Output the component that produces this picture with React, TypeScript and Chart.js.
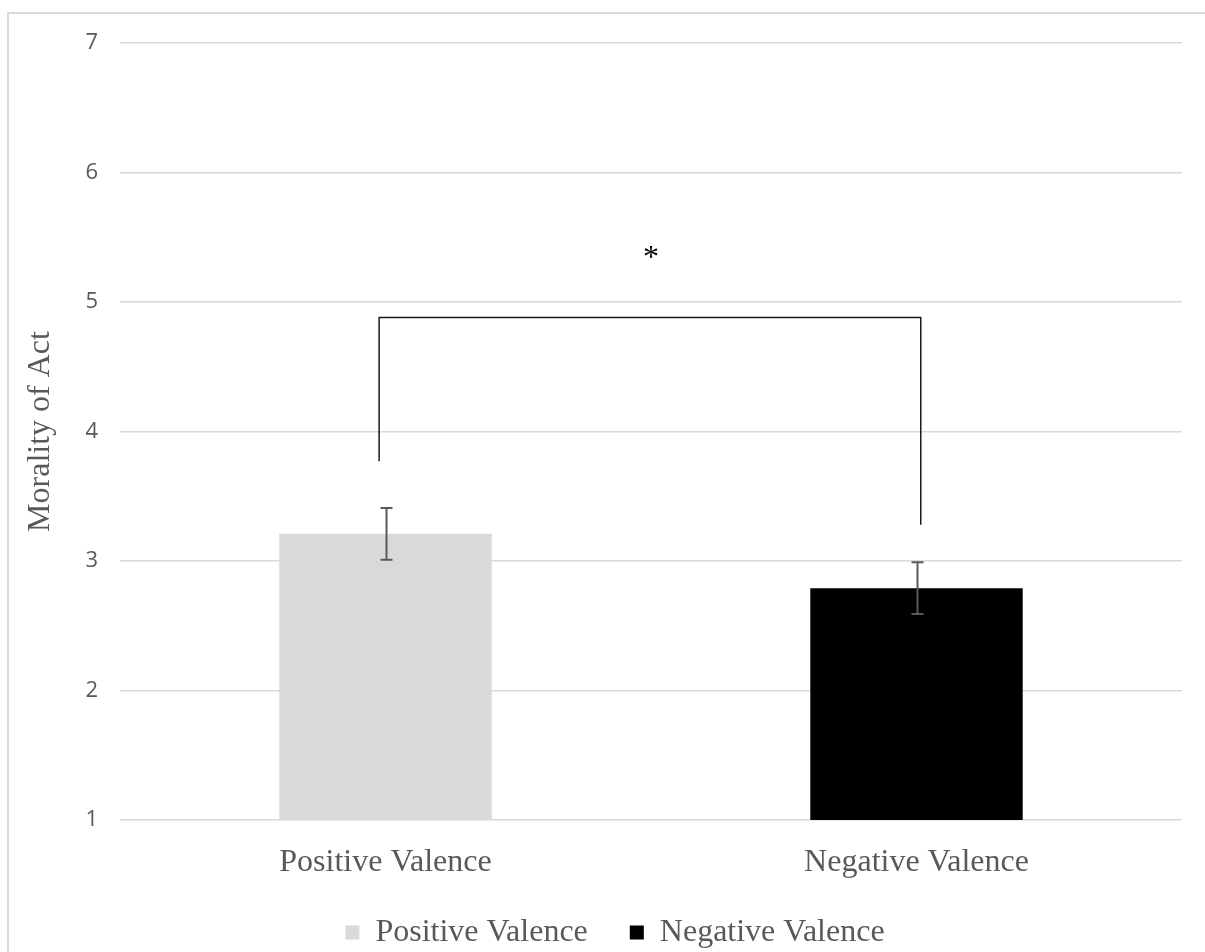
import React, { useEffect, useRef } from "react";
import { Chart, registerables } from "chart.js";

Chart.register(...registerables);

// Group means and standard errors
const categories = ["Positive Valence", "Negative Valence"];
const seriesNames = ["Positive Valence", "Negative Valence"];
const means = [3.21, 2.79];
const stdErrors = [0.2, 0.2];
const seriesColors = ["#d9d9d9", "#000000"];

// Value axis
const yMin = 1;
const yMax = 7;
const yStep = 1;
const yTitle = "Morality of Act";

// Significance bracket (x in category-index units, y in data units)
const bracketX = [-0.012, 1.008];
const bracketFeet = [3.77, 3.28];
const bracketTop = 4.88;
const starX = 0.5;
const starLevel = 5.38;
const starText = "*";

const SERIF = "'Liberation Serif', 'Times New Roman', serif";
const SANS = "'Open Sans', 'Liberation Sans', sans-serif";
const TEXT_GREY = "#595959";
const GRID_GREY = "#d9d9d9";
// extra room after each legend entry except the last
const LEGEND_GAP = "\u2002\u2002";

const framePlugin = {
  id: "frame",
  beforeDraw(chart: any) {
    const { ctx, width, height } = chart;
    ctx.save();
    ctx.fillStyle = "#ffffff";
    ctx.fillRect(0, 0, width, height);
    ctx.strokeStyle = GRID_GREY;
    ctx.lineWidth = 2;
    ctx.beginPath();
    ctx.moveTo(8, height);
    ctx.lineTo(8, 13);
    ctx.lineTo(width, 13);
    ctx.stroke();
    ctx.restore();
  },
};

const annotationsPlugin = {
  id: "annotations",
  afterDatasetsDraw(chart: any) {
    const { ctx } = chart;
    const xs = chart.scales.x;
    const ys = chart.scales.y;
    ctx.save();

    // error bars
    ctx.strokeStyle = "#5a5a5a";
    ctx.lineWidth = 2;
    means.forEach((m, i) => {
      const x = Math.round(xs.getPixelForValue(i)) + 0.5;
      const yt = ys.getPixelForValue(m + stdErrors[i]);
      const yb = ys.getPixelForValue(m - stdErrors[i]);
      ctx.beginPath();
      ctx.moveTo(x, yt);
      ctx.lineTo(x, yb);
      ctx.moveTo(x - 6, yt);
      ctx.lineTo(x + 6, yt);
      ctx.moveTo(x - 6, yb);
      ctx.lineTo(x + 6, yb);
      ctx.stroke();
    });

    // significance bracket
    const xl = xs.getPixelForValue(bracketX[0]);
    const xr = xs.getPixelForValue(bracketX[1]);
    const yTop = ys.getPixelForValue(bracketTop);
    ctx.strokeStyle = "#1a1a1a";
    ctx.lineWidth = 1.5;
    ctx.beginPath();
    ctx.moveTo(xl, ys.getPixelForValue(bracketFeet[0]));
    ctx.lineTo(xl, yTop);
    ctx.lineTo(xr, yTop);
    ctx.lineTo(xr, ys.getPixelForValue(bracketFeet[1]));
    ctx.stroke();

    ctx.fillStyle = "#000000";
    ctx.font = `32px ${SERIF}`;
    ctx.textAlign = "center";
    ctx.textBaseline = "middle";
    ctx.fillText(starText, xs.getPixelForValue(starX), ys.getPixelForValue(starLevel) + 6);
    ctx.restore();
  },
};

export default function App() {
  const canvasRef = useRef<HTMLCanvasElement | null>(null);

  useEffect(() => {
    const canvas = canvasRef.current;
    if (!canvas) return;

    const datasets = seriesNames.map((name, s) => ({
      label: name,
      data: categories.map((_, i) => (i === s ? means[i] : null)),
      backgroundColor: seriesColors[s],
      borderWidth: 0,
      barPercentage: 0.4,
      categoryPercentage: 1.0,
    }));

    const defaultLabels = Chart.defaults.plugins.legend.labels.generateLabels;

    const chart = new Chart(canvas, {
      type: "bar",
      data: { labels: categories, datasets },
      options: {
        responsive: false,
        maintainAspectRatio: false,
        animation: false,
        devicePixelRatio: 1,
        events: [],
        layout: { padding: { left: 48, top: 43, right: 23, bottom: 3.5 } },
        scales: {
          x: {
            stacked: true,
            grid: { display: false, drawTicks: false },
            border: { display: false },
            ticks: {
              color: TEXT_GREY,
              padding: 23,
              font: { family: SERIF, size: 32 },
            },
            afterFit(scale: any) {
              scale.height = 86.5;
            },
          },
          y: {
            min: yMin,
            max: yMax,
            grid: { color: GRID_GREY, lineWidth: 1.5, drawTicks: false },
            border: { display: false },
            ticks: {
              stepSize: yStep,
              color: TEXT_GREY,
              padding: 22,
              font: { family: SANS, size: 22 },
            },
            title: {
              display: true,
              text: yTitle,
              color: TEXT_GREY,
              font: { family: SERIF, size: 32 },
              padding: { top: -27, bottom: 0 },
            },
            afterFit(scale: any) {
              scale.width = 72;
            },
          },
        },
        plugins: {
          legend: {
            display: true,
            position: "bottom",
            labels: {
              boxWidth: 14,
              boxHeight: 14,
              padding: 10,
              color: TEXT_GREY,
              font: { family: SERIF, size: 32 },
              generateLabels(c: any) {
                const items = defaultLabels(c);
                return items.map((it: any, k: number) =>
                  k < items.length - 1 ? { ...it, text: it.text + LEGEND_GAP } : it
                );
              },
            },
          },
          tooltip: { enabled: false },
        },
      },
      plugins: [framePlugin, annotationsPlugin],
    });

    return () => chart.destroy();
  }, []);

  return (
    <div
      style={{
        position: "fixed",
        left: 0,
        top: 0,
        width: 1205,
        height: 952,
        overflow: "hidden",
        background: "#ffffff",
      }}
    >
      <canvas ref={canvasRef} width={1205} height={962} style={{ display: "block" }} />
    </div>
  );
}
